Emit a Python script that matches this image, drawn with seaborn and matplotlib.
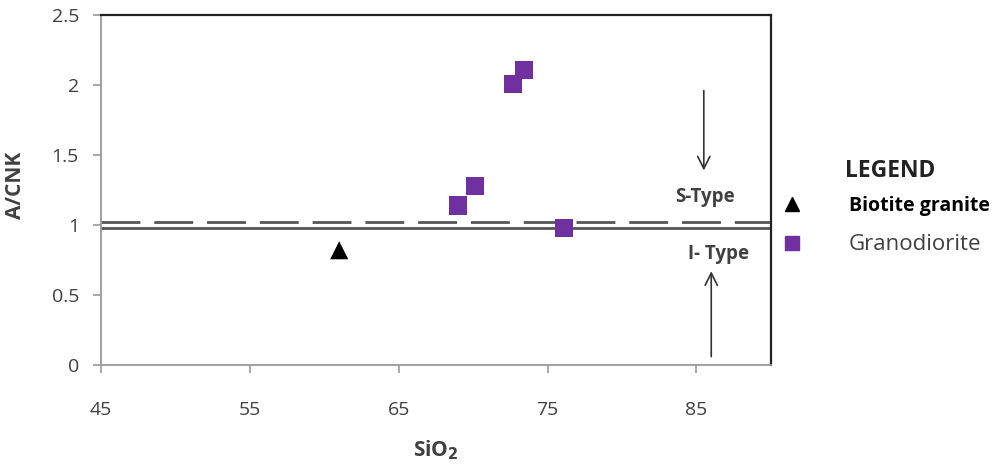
import matplotlib
matplotlib.use("Agg")
import matplotlib.pyplot as plt
import seaborn as sns
import pandas as pd
from matplotlib.lines import Line2D

sio2 = [61.0, 69.0, 70.1, 72.7, 73.4, 76.1]
acnk = [0.82, 1.14, 1.28, 2.01, 2.11, 0.98]
rock_type = ["Biotite granite", "Granodiorite", "Granodiorite",
             "Granodiorite", "Granodiorite", "Granodiorite"]
x_ticks = [45, 55, 65, 75, 85]
y_ticks = [0, 0.5, 1, 1.5, 2, 2.5]
y_tick_labels = ["0", "0.5", "1", "1.5", "2", "2.5"]

df = pd.DataFrame({"SiO2": sio2, "A/CNK": acnk, "Rock": rock_type})

sns.set_theme(style="white")
plt.rcParams["font.family"] = ["Open Sans", "DejaVu Sans"]

fig = plt.figure(figsize=(10.01, 4.71), dpi=100)
ax = fig.add_axes([0.101, 0.225, 0.669, 0.743])

# boundary lines
ax.axhline(0.98, color="#555555", lw=2.0, zorder=1)
ax.axhline(1.02, color="#555555", lw=2.0, dashes=(14, 5), zorder=1)

palette = {"Biotite granite": "black", "Granodiorite": "#7030A0"}
markers = {"Biotite granite": "^", "Granodiorite": "s"}
sns.scatterplot(data=df, x="SiO2", y="A/CNK", hue="Rock", style="Rock",
                palette=palette, markers=markers, s=170, linewidth=0,
                ax=ax, legend=False, zorder=3)

ax.set_xlim(45, 90)
ax.set_ylim(0, 2.5)
ax.set_xticks(x_ticks)
ax.set_yticks(y_ticks)
ax.set_yticklabels(y_tick_labels)
ax.tick_params(axis="both", direction="out", length=6, width=1.2, color="#999999",
               labelsize=14, labelcolor="#404040", left=True, bottom=True)
ax.tick_params(axis="y", pad=10)
ax.tick_params(axis="x", pad=20)

for side in ["left", "bottom"]:
    ax.spines[side].set_color("#999999")
    ax.spines[side].set_linewidth(1.3)
for side in ["top", "right"]:
    ax.spines[side].set_color("#222222")
    ax.spines[side].set_linewidth(1.6)

ax.set_xlabel("SiO$_\\mathbf{2}$", fontsize=15, fontweight="bold", color="#404040", labelpad=14)
ax.set_ylabel("A/CNK", fontsize=15, fontweight="bold", color="#404040")
ax.yaxis.set_label_coords(-0.112, 0.514)

# arrows and labels
ax.annotate("", xy=(85.5, 1.37), xytext=(85.5, 1.98),
            arrowprops=dict(arrowstyle="->", color="#333333", lw=1.2, mutation_scale=22))
ax.annotate("", xy=(86.0, 0.69), xytext=(86.0, 0.04),
            arrowprops=dict(arrowstyle="->", color="#333333", lw=1.2, mutation_scale=22))
ax.text(85.6, 1.2, "S-Type", ha="center", va="center", fontsize=13.5,
        fontweight="bold", color="#404040")
ax.text(86.5, 0.79, "I- Type", ha="center", va="center", fontsize=13.5,
        fontweight="bold", color="#404040")

# legend
handles = [Line2D([], [], marker="^", color="black", linestyle="none", markersize=10),
           Line2D([], [], marker="s", color="#7030A0", linestyle="none", markersize=10)]
leg = fig.legend(handles, ["Biotite granite", "Granodiorite"], loc="upper left",
                 bbox_to_anchor=(0.764, 0.621), frameon=False, fontsize=14,
                 handletextpad=2.42, labelspacing=0.9, handlelength=1.0)
texts = leg.get_texts()
texts[0].set_fontweight("bold")
texts[0].set_color("black")
texts[1].set_color("#404040")
texts[1].set_fontsize(16)
fig.text(0.844, 0.638, "LEGEND", fontsize=16.5, fontweight="bold", color="#222222",
         ha="left", va="center")

fig.savefig("out.png", dpi=100)
